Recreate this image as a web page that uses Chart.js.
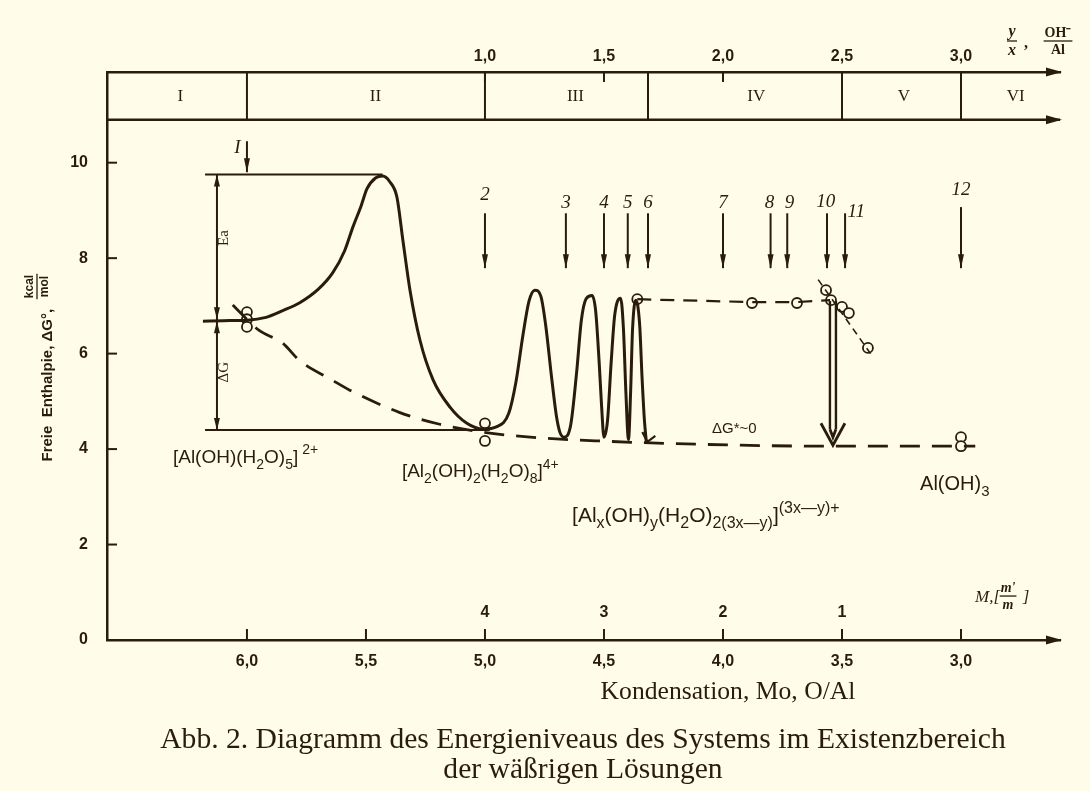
<!DOCTYPE html>
<html>
<head>
<meta charset="utf-8">
<script src="https://cdn.jsdelivr.net/npm/chart.js@4.4.1/dist/chart.umd.min.js"></script>
<style>
html, body { margin: 0; padding: 0; background: #fffcea; }
</style>
</head>
<body>
<canvas id="c" width="1090" height="791"></canvas>
<script>
var INK = '#2a1c0c';
var PAPER = '#fffcea';

// axes
var xTicks = [6.0, 5.5, 5.0, 4.5, 4.0, 3.5, 3.0];
var topTicks = [1.0, 1.5, 2.0, 2.5, 3.0];
var yTicks = [0, 2, 4, 6, 8, 10];
var bandLine = 10.9;

// regions in the band above the plot
var regionNames = ['I', 'II', 'III', 'IV', 'V', 'VI'];
var regionCenters = [6.28, 5.46, 4.62, 3.86, 3.24, 2.77];
var regionBounds = [6.0, 5.0, 4.315, 3.5, 3.0];

// energy profile (solid)
var profileX = [6.185, 6.10, 6.0, 5.92, 5.85, 5.78, 5.70, 5.64, 5.59, 5.555, 5.52, 5.496, 5.46, 5.43, 5.40, 5.37, 5.345, 5.315, 5.273, 5.218, 5.147, 5.076, 5.008,
  4.95, 4.90, 4.87, 4.84, 4.815, 4.79, 4.765, 4.745, 4.72, 4.70, 4.685, 4.668,
  4.64, 4.615, 4.595, 4.575, 4.55, 4.535, 4.52, 4.51, 4.50,
  4.485, 4.47, 4.455, 4.43, 4.418, 4.408, 4.397,
  4.388, 4.38, 4.366, 4.35, 4.34, 4.33, 4.322];
var profileY = [6.68, 6.69, 6.70, 6.76, 6.90, 7.06, 7.35, 7.69, 8.15, 8.65, 9.10, 9.45, 9.68, 9.72, 9.60, 9.28, 8.38, 7.33, 6.28, 5.45, 4.88, 4.54, 4.42,
  4.47, 4.75, 5.4, 6.4, 7.1, 7.33, 7.2, 6.6, 5.5, 4.7, 4.35, 4.25,
  4.5, 5.6, 6.7, 7.15, 7.22, 6.9, 5.8, 4.9, 4.25,
  4.6, 5.8, 6.8, 7.16, 6.5, 5.2, 4.2,
  5.2, 6.5, 7.12, 6.6, 5.5, 4.6, 4.15];

// dashed lower envelope
var baseX = [6.06, 5.95, 5.85, 5.78, 5.64, 5.57, 5.36, 5.19, 5.02, 4.81, 4.52, 4.10, 3.55, 2.94];
var baseY = [7.02, 6.49, 6.22, 5.86, 5.44, 5.24, 4.77, 4.52, 4.36, 4.25, 4.17, 4.10, 4.06, 4.06];

// dashed plateau and slope at 10/11
var plateauX = [4.36, 3.88, 3.69, 3.55];
var plateauY = [7.14, 7.08, 7.08, 7.12];
var slopeX = [3.60, 3.38];
var slopeY = [7.55, 6.0];

// open circles
var markX = [6.0, 6.0, 6.0, 5.0, 5.0, 4.36, 3.878, 3.689, 3.567, 3.546, 3.50, 3.471, 3.391, 3.0, 3.0];
var markY = [6.87, 6.72, 6.56, 4.54, 4.17, 7.14, 7.06, 7.06, 7.33, 7.12, 6.98, 6.85, 6.12, 4.25, 4.06];

// Ea / dG bracket
var bracketX = 6.126;
var bracketLeft = 6.176;
var peakTop = 9.75, startLevel = 6.7, endLevel = 4.4;

// numbered arrows
var arrowNames = ['I', '2', '3', '4', '5', '6', '7', '8', '9', '10', '11', '12'];
var arrowX = [6.0, 5.0, 4.66, 4.50, 4.40, 4.315, 4.0, 3.80, 3.73, 3.563, 3.487, 3.0];
var arrowTop = [10.45, 8.94, 8.94, 8.94, 8.94, 8.94, 8.94, 8.94, 8.94, 8.94, 8.94, 9.07];
var arrowBottom = [9.8, 7.79, 7.79, 7.79, 7.79, 7.79, 7.79, 7.79, 7.79, 7.79, 7.79, 7.79];
var labelX = [6.04, 5.0, 4.66, 4.50, 4.40, 4.315, 4.0, 3.805, 3.72, 3.568, 3.44, 3.0];
var labelY = [10.3, 9.32, 9.15, 9.15, 9.15, 9.15, 9.15, 9.15, 9.15, 9.17, 8.96, 9.42];

// big drop arrow at 10
var dropX = 3.538, dropTop = 7.1, dropBottom = 4.08;

// M scale numbers
var mNames = ['4', '3', '2', '1'];
var mX = [5.0, 4.5, 4.0, 3.5];
var mY = 0.565;

function fmt(v) {
  return v.toFixed(1).replace('.', ',');
}

function fontStr(size, family, style) {
  return (style || '') + ' ' + size + 'px ' + family;
}

// parts: [text, kind] with kind 'n' normal, 'b' subscript, 'p' superscript
function drawRich(ctx, parts, x, y, size, family, style) {
  ctx.save();
  ctx.textAlign = 'left';
  ctx.textBaseline = 'alphabetic';
  var cx = x;
  parts.forEach(function (p) {
    var s = p[1] === 'n' ? size : Math.round(size * 0.75);
    var dy = p[1] === 'b' ? size * 0.3 : (p[1] === 'p' ? -size * 0.45 : 0);
    ctx.font = fontStr(s, family, style);
    ctx.fillText(p[0], cx, y + dy);
    cx += ctx.measureText(p[0]).width;
  });
  ctx.restore();
  return cx - x;
}

function drawFrac(ctx, num, den, cx, cy, size, family, style) {
  ctx.save();
  ctx.font = fontStr(size, family, style);
  var w = Math.max(ctx.measureText(num).width, ctx.measureText(den).width) + 2;
  ctx.textAlign = 'center';
  ctx.textBaseline = 'bottom';
  ctx.fillText(num, cx, cy - 1);
  ctx.textBaseline = 'top';
  ctx.fillText(den, cx, cy + 2);
  ctx.lineWidth = 1.3;
  ctx.beginPath();
  ctx.moveTo(cx - w / 2, cy);
  ctx.lineTo(cx + w / 2, cy);
  ctx.stroke();
  ctx.restore();
  return w;
}

function headDown(ctx, x, y, len, half) {
  ctx.beginPath();
  ctx.moveTo(x, y);
  ctx.lineTo(x - half, y - len);
  ctx.lineTo(x + half, y - len);
  ctx.closePath();
  ctx.fill();
}

function headUp(ctx, x, y, len, half) {
  ctx.beginPath();
  ctx.moveTo(x, y);
  ctx.lineTo(x - half, y + len);
  ctx.lineTo(x + half, y + len);
  ctx.closePath();
  ctx.fill();
}

function headRight(ctx, x, y) {
  ctx.beginPath();
  ctx.moveTo(x + 2, y);
  ctx.lineTo(x - 14, y - 4.5);
  ctx.lineTo(x - 14, y + 4.5);
  ctx.closePath();
  ctx.fill();
}

function fitFont(ctx, text, width, family) {
  ctx.font = '20px ' + family;
  return 20 * width / ctx.measureText(text).width;
}

var decor = {
  id: 'decor',
  beforeDraw: function (chart) {
    var ctx = chart.ctx;
    ctx.save();
    ctx.fillStyle = PAPER;
    ctx.fillRect(0, 0, chart.width, chart.height);
    ctx.restore();
  },
  afterDraw: function (chart) {
    var ctx = chart.ctx;
    var xs = chart.scales.x, ys = chart.scales.y, x2 = chart.scales.x2;
    var area = chart.chartArea;
    var px = function (v) { return xs.getPixelForValue(v); };
    var py = function (v) { return ys.getPixelForValue(v); };
    var bandY = py(bandLine);

    ctx.save();
    ctx.strokeStyle = INK;
    ctx.fillStyle = INK;
    ctx.lineCap = 'butt';

    // band
    ctx.lineWidth = 2.5;
    ctx.beginPath();
    ctx.moveTo(area.left, bandY);
    ctx.lineTo(area.right, bandY);
    ctx.stroke();
    ctx.lineWidth = 2;
    regionBounds.forEach(function (b) {
      ctx.beginPath();
      ctx.moveTo(px(b), area.top);
      ctx.lineTo(px(b), bandY);
      ctx.stroke();
    });
    ctx.font = '17px "Liberation Serif"';
    ctx.textAlign = 'center';
    ctx.textBaseline = 'middle';
    regionNames.forEach(function (n, i) {
      ctx.fillText(n, px(regionCenters[i]), (area.top + bandY) / 2 + 1);
    });

    // axis arrow heads
    headRight(ctx, area.right, area.top);
    headRight(ctx, area.right, bandY);
    headRight(ctx, area.right, area.bottom);

    // inward tick marks
    ctx.lineWidth = 2;
    topTicks.forEach(function (t) {
      var x = x2.getPixelForValue(t);
      ctx.beginPath();
      ctx.moveTo(x, area.top);
      ctx.lineTo(x, area.top + 10);
      ctx.stroke();
    });
    xTicks.forEach(function (t) {
      var x = px(t);
      ctx.beginPath();
      ctx.moveTo(x, area.bottom);
      ctx.lineTo(x, area.bottom - 11);
      ctx.stroke();
    });
    yTicks.forEach(function (t) {
      var y = py(t);
      ctx.beginPath();
      ctx.moveTo(area.left, y);
      ctx.lineTo(area.left + 10, y);
      ctx.stroke();
    });

    // y axis title
    ctx.save();
    ctx.translate(48, 366);
    ctx.rotate(-Math.PI / 2);
    ctx.font = 'bold 15px "Liberation Sans"';
    var ttl = 'Freie  Enthalpie, \u0394G\u00b0,  ';
    var tw = ctx.measureText(ttl).width;
    var total = tw + 30;
    ctx.textAlign = 'left';
    ctx.textBaseline = 'middle';
    ctx.fillText(ttl, -total / 2, 0);
    drawFrac(ctx, 'kcal', 'mol', -total / 2 + tw + 14, -11, 12, '"Liberation Sans"', 'bold');
    ctx.restore();

    // numbered arrows
    arrowNames.forEach(function (n, i) {
      var x = px(arrowX[i]);
      var yt = py(arrowTop[i]), yb = py(arrowBottom[i]);
      ctx.lineWidth = 2;
      ctx.beginPath();
      ctx.moveTo(x, yt);
      ctx.lineTo(x, yb);
      ctx.stroke();
      headDown(ctx, x, yb, 14, 3);
      ctx.font = 'italic 19px "Liberation Serif"';
      ctx.textAlign = 'center';
      ctx.textBaseline = 'middle';
      ctx.fillText(n, px(labelX[i]), py(labelY[i]));
    });

    // bracket arrow heads and labels
    var bx = px(bracketX);
    headUp(ctx, bx, py(peakTop), 12, 3);
    headDown(ctx, bx, py(startLevel) - 1, 12, 3);
    headUp(ctx, bx, py(startLevel) + 1, 12, 3);
    headDown(ctx, bx, py(endLevel), 12, 3);
    ctx.save();
    ctx.font = '15px "Liberation Serif"';
    ctx.textAlign = 'center';
    ctx.textBaseline = 'middle';
    ctx.translate(bx + 7, py(8.42));
    ctx.rotate(-Math.PI / 2);
    ctx.fillText('Ea', 0, 0);
    ctx.restore();
    ctx.save();
    ctx.font = '15px "Liberation Serif"';
    ctx.textAlign = 'center';
    ctx.textBaseline = 'middle';
    ctx.translate(bx + 7, py(5.61));
    ctx.rotate(-Math.PI / 2);
    ctx.fillText('\u0394G', 0, 0);
    ctx.restore();

    // arrow head at the end of the last descent
    var ex = px(profileX[profileX.length - 1]), ey = py(profileY[profileY.length - 1]);
    ctx.lineWidth = 2.2;
    ctx.beginPath();
    ctx.moveTo(ex - 4, ey - 10);
    ctx.lineTo(ex + 1, ey);
    ctx.lineTo(ex + 9, ey - 6);
    ctx.stroke();

    // big drop arrow at 10
    var dx = px(dropX), dt = py(dropTop), db = py(dropBottom);
    ctx.lineWidth = 2.4;
    ctx.beginPath();
    ctx.moveTo(dx - 3, dt);
    ctx.lineTo(dx - 3, db - 16);
    ctx.moveTo(dx + 3, dt);
    ctx.lineTo(dx + 3, db - 16);
    ctx.stroke();
    ctx.lineWidth = 2.8;
    ctx.beginPath();
    ctx.moveTo(dx - 12, db - 22);
    ctx.lineTo(dx, db);
    ctx.lineTo(dx + 12, db - 22);
    ctx.moveTo(dx - 3, db - 16);
    ctx.lineTo(dx, db - 8);
    ctx.lineTo(dx + 3, db - 16);
    ctx.stroke();

    // species labels
    var sans = '"Liberation Sans"';
    drawRich(ctx, [['[Al(OH)(H', 'n'], ['2', 'b'], ['O)', 'n'], ['5', 'b'], [']', 'n'], [' 2+', 'p']],
      px(6.311), py(3.71), 19, sans, '');
    drawRich(ctx, [['[Al', 'n'], ['2', 'b'], ['(OH)', 'n'], ['2', 'b'], ['(H', 'n'], ['2', 'b'], ['O)', 'n'], ['8', 'b'], [']', 'n'], ['4+', 'p']],
      px(5.349), py(3.41), 19, sans, '');
    drawRich(ctx, [['[Al', 'n'], ['x', 'b'], ['(OH)', 'n'], ['y', 'b'], ['(H', 'n'], ['2', 'b'], ['O)', 'n'], ['2(3x\u2014y)', 'b'], [']', 'n'], ['(3x\u2014y)+', 'p']],
      px(4.634), py(2.47), 21, sans, '');
    drawRich(ctx, [['Al(OH)', 'n'], ['3', 'b']], px(3.172), py(3.14), 20, sans, '');
    drawRich(ctx, [['\u0394G*~0', 'n']], px(4.046), py(4.33), 15, sans, '');

    // M scale
    ctx.font = 'bold 16px "Liberation Sans"';
    ctx.textAlign = 'center';
    ctx.textBaseline = 'middle';
    mNames.forEach(function (n, i) {
      ctx.fillText(n, px(mX[i]), py(mY));
    });
    ctx.font = 'italic 17px "Liberation Serif"';
    ctx.textAlign = 'left';
    ctx.textBaseline = 'middle';
    var mx = px(2.941), my = py(0.9);
    ctx.fillText('M,[', mx, my);
    var mw = ctx.measureText('M,[').width;
    var fw = drawFrac(ctx, "m'", 'm', mx + mw + 8, my - 1, 14, '"Liberation Serif"', 'italic bold');
    ctx.font = 'italic 17px "Liberation Serif"';
    ctx.textAlign = 'left';
    ctx.fillText(']', mx + mw + fw + 6, my);

    // top right scale name
    drawFrac(ctx, 'y', 'x', 1012, 41, 16, '"Liberation Serif"', 'italic bold');
    ctx.font = 'bold 16px "Liberation Serif"';
    ctx.textAlign = 'left';
    ctx.textBaseline = 'middle';
    ctx.fillText(',', 1024, 44);
    drawFrac(ctx, 'OH\u207b', 'Al', 1058, 41, 14, '"Liberation Serif"', 'bold');

    // x title and caption
    ctx.textAlign = 'center';
    ctx.textBaseline = 'alphabetic';
    var serif = '"Liberation Serif"';
    var t1 = 'Kondensation, Mo, O/Al';
    ctx.font = fitFont(ctx, t1, 255, serif) + 'px ' + serif;
    ctx.fillText(t1, 728, 699);
    var c1 = 'Abb. 2. Diagramm des Energieniveaus des Systems im Existenzbereich';
    var cs = fitFont(ctx, c1, 846, serif);
    ctx.font = cs + 'px ' + serif;
    ctx.fillText(c1, 583, 748);
    ctx.fillText('der w\u00e4\u00dfrigen L\u00f6sungen', 583, 778);

    ctx.restore();
  }
};

var lineStyle = { borderColor: INK, pointRadius: 0, showLine: true, fill: false };
var tickFont = { size: 16, weight: 'bold', family: 'Liberation Sans' };

new Chart(document.getElementById('c').getContext('2d'), {
  type: 'scatter',
  data: {
    datasets: [
      Object.assign({
        label: 'profile',
        data: profileX.map(function (x, i) { return { x: x, y: profileY[i] }; }),
        borderWidth: 3,
        cubicInterpolationMode: 'monotone'
      }, lineStyle),
      Object.assign({
        label: 'base',
        data: baseX.map(function (x, i) { return { x: x, y: baseY[i] }; }),
        borderWidth: 2.8,
        borderDash: [20, 12],
        cubicInterpolationMode: 'monotone'
      }, lineStyle),
      Object.assign({
        label: 'plateau',
        data: plateauX.map(function (x, i) { return { x: x, y: plateauY[i] }; }),
        borderWidth: 2.2,
        borderDash: [14, 9]
      }, lineStyle),
      Object.assign({
        label: 'slope',
        data: slopeX.map(function (x, i) { return { x: x, y: slopeY[i] }; }),
        borderWidth: 1.6,
        borderDash: [7, 5]
      }, lineStyle),
      Object.assign({
        label: 'bracket',
        data: [
          { x: bracketLeft, y: peakTop }, { x: 5.43, y: peakTop }, { x: NaN, y: NaN },
          { x: bracketX, y: peakTop }, { x: bracketX, y: endLevel }, { x: NaN, y: NaN },
          { x: bracketLeft, y: endLevel }, { x: 4.98, y: endLevel }
        ],
        borderWidth: 2,
        spanGaps: false
      }, lineStyle),
      {
        label: 'points',
        data: markX.map(function (x, i) { return { x: x, y: markY[i] }; }),
        showLine: false,
        pointRadius: 5,
        pointBorderWidth: 1.8,
        pointBorderColor: INK,
        pointBackgroundColor: PAPER
      }
    ]
  },
  options: {
    responsive: false,
    animation: false,
    layout: { padding: { left: 0, right: 30, top: 0, bottom: 0 } },
    plugins: { legend: { display: false }, tooltip: { enabled: false } },
    scales: {
      x: {
        type: 'linear', position: 'bottom', reverse: true, min: 2.584, max: 6.588,
        afterBuildTicks: function (s) { s.ticks = xTicks.map(function (v) { return { value: v }; }); },
        afterFit: function (s) { s.height = 151; },
        grid: { display: false },
        border: { display: true, color: INK, width: 2.5 },
        ticks: { padding: 4, color: INK, font: tickFont, maxRotation: 0, autoSkip: false, callback: fmt }
      },
      x2: {
        type: 'linear', position: 'top', min: 6 - 6.588, max: 6 - 2.584,
        afterBuildTicks: function (s) { s.ticks = topTicks.map(function (v) { return { value: v }; }); },
        afterFit: function (s) { s.height = 72; },
        grid: { display: false },
        border: { display: true, color: INK, width: 2.5 },
        ticks: { padding: -2, color: INK, font: tickFont, maxRotation: 0, autoSkip: false, callback: fmt }
      },
      y: {
        type: 'linear', min: 0, max: 11.9,
        afterBuildTicks: function (s) { s.ticks = yTicks.map(function (v) { return { value: v }; }); },
        afterFit: function (s) { s.width = 107; },
        grid: { display: false },
        border: { display: true, color: INK, width: 2.5 },
        ticks: { padding: 11, color: INK, font: tickFont }
      }
    }
  },
  plugins: [decor]
});
</script>
</body>
</html>
